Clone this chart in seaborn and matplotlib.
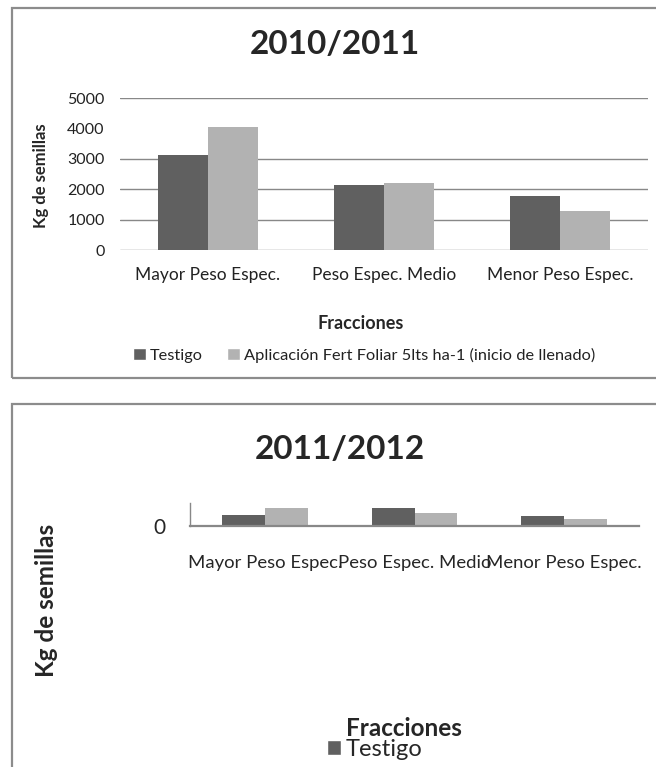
import pandas as pd
import seaborn as sns
import matplotlib.pyplot as plt
from matplotlib.patches import Rectangle, Patch

fracciones = ["Mayor Peso Espec.", "Peso Espec. Medio", "Menor Peso Espec."]
tratamientos = ["Testigo", "Aplicación Fert Foliar 5lts ha-1 (inicio de llenado)"]

# 2010/2011 (kg de semillas)
testigo_1011 = [3130, 2150, 1760]
aplicacion_1011 = [4030, 2210, 1290]

# 2011/2012 (solo se ve la forma, escala sin marcar)
testigo_1112 = [2400, 3900, 2200]
aplicacion_1112 = [3900, 2800, 1500]

colores = ["#606060", "#b2b2b2"]
gris = "#888888"

sns.set_style("white")
plt.rcParams["font.family"] = ["Lato", "DejaVu Sans"]

def tabla(t, a):
    return pd.DataFrame({
        "Fraccion": fracciones * 2,
        "Tratamiento": [tratamientos[0]] * 3 + [tratamientos[1]] * 3,
        "Kg": t + a,
    })

W, H = 656, 767
fig = plt.figure(figsize=(W / 100, H / 100), dpi=100)

def px(x0, y0, x1, y1):
    return [x0 / W, 1 - y1 / H, (x1 - x0) / W, (y1 - y0) / H]

# marcos de los paneles
fig.patches.append(Rectangle((12 / W, 1 - 378 / H), 2, 370 / H, transform=fig.transFigure,
                             fill=False, edgecolor="#8c8c8c", lw=1.6))
fig.patches.append(Rectangle((12 / W, -0.1), 2, 0.1 + 1 - 404 / H, transform=fig.transFigure,
                             fill=False, edgecolor="#8c8c8c", lw=1.6))

# ---- 2010/2011
ax1 = fig.add_axes(px(120, 98, 648, 250))
sns.barplot(data=tabla(testigo_1011, aplicacion_1011), x="Fraccion", y="Kg", hue="Tratamiento",
            palette=colores, width=0.57, saturation=1, linewidth=0, ax=ax1, zorder=3)
ax1.set_ylim(0, 5000)
ax1.set_xlim(-0.5, 2.5)
ax1.set_yticks([0, 1000, 2000, 3000, 4000, 5000])
ax1.yaxis.grid(True, color=gris, lw=1)
ax1.yaxis.get_gridlines()[4].set_visible(False)
ax1.set_axisbelow(True)
for s in ax1.spines.values():
    s.set_visible(False)
ax1.tick_params(axis="y", length=0, pad=11, labelsize=11.5, labelcolor="#222222")
ax1.tick_params(axis="x", length=0, pad=12, labelsize=12.5, labelcolor="#222222")
ax1.set_xlabel("")
ax1.set_ylabel("")
ax1.get_legend().remove()

fig.text(335 / W, 1 - 44 / H, "2010/2011", ha="center", va="center", fontsize=24, fontweight="bold")
fig.text(41 / W, 1 - 176 / H, "Kg de semillas", ha="center", va="center", rotation=90,
         fontsize=12, fontweight="bold")
fig.text(361 / W, 1 - 323 / H, "Fracciones", ha="center", va="center", fontsize=13, fontweight="bold")
handles = [Patch(facecolor=c) for c in colores]
fig.legend(handles, tratamientos, loc="center", bbox_to_anchor=(364 / W, 1 - 355 / H),
           ncol=2, frameon=False, fontsize=11.8, handlelength=0.8, handleheight=0.8,
           handletextpad=0.2, columnspacing=1.5, labelcolor="#222222")

# ---- 2011/2012
ax2 = fig.add_axes(px(190, 503, 639, 526))
sns.barplot(data=tabla(testigo_1112, aplicacion_1112), x="Fraccion", y="Kg", hue="Tratamiento",
            palette=colores, width=0.573, saturation=1, linewidth=0, ax=ax2)
ax2.set_ylim(0, 5000)
ax2.set_xlim(-0.5, 2.5)
ax2.set_yticks([0])
for k in ["top", "right"]:
    ax2.spines[k].set_visible(False)
ax2.spines["bottom"].set_color(gris)
ax2.spines["bottom"].set_linewidth(1.6)
ax2.spines["left"].set_color(gris)
ax2.spines["left"].set_linewidth(1)
ax2.tick_params(axis="y", length=6, width=1.6, color=gris, pad=12, labelsize=15)
ax2.tick_params(axis="x", length=0, pad=21, labelsize=13.3)
ax2.set_xlabel("")
ax2.set_ylabel("")
ax2.get_legend().remove()

fig.text(340 / W, 1 - 449 / H, "2011/2012", ha="center", va="center", fontsize=24, fontweight="bold")
fig.text(46 / W, 1 - 600 / H, "Kg de semillas", ha="center", va="center", rotation=90,
         fontsize=17.5, fontweight="bold")
fig.text(404 / W, 1 - 728 / H, "Fracciones", ha="center", va="center", fontsize=17.5, fontweight="bold")
fig.legend(handles[:1], tratamientos[:1], loc="center", bbox_to_anchor=(375 / W, 1 - 749 / H),
           frameon=False, fontsize=17, handlelength=0.6, handleheight=0.6, handletextpad=0.2,
           borderpad=0, borderaxespad=0)

fig.savefig("out.png", dpi=100)
